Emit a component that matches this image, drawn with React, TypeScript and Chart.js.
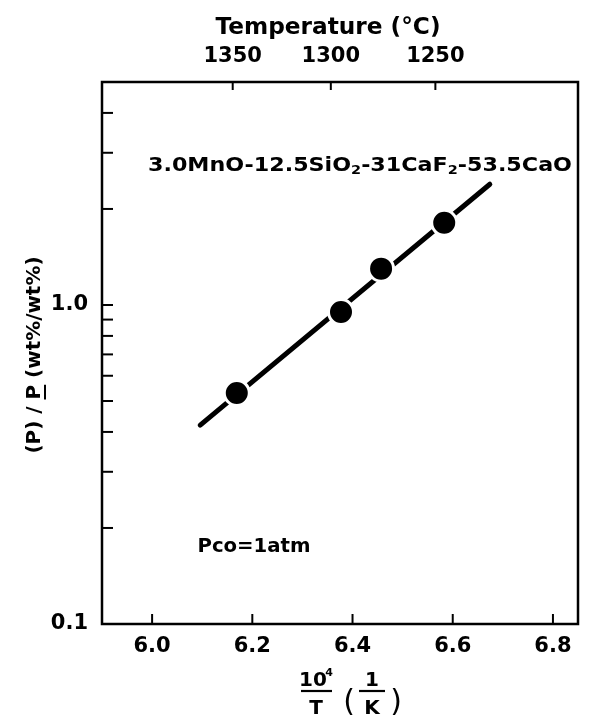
import React, { useEffect, useRef } from "react";
import { Chart, registerables } from "chart.js";

Chart.register(...registerables);

// ---- data ----
const invT = [6.169, 6.377, 6.457, 6.583]; // 10^4/T (1/K)
const ratioP = [0.53, 0.95, 1.3, 1.81]; // (P)/P (wt%/wt%)
const fitInvT = [6.096, 6.674];
const fitRatio = [0.42, 2.39];
const xTickValues = [6.0, 6.2, 6.4, 6.6, 6.8];
const tempTicksC = [1350, 1300, 1250];
const yTickValues = [0.1, 0.2, 0.3, 0.4, 0.5, 0.6, 0.7, 0.8, 0.9, 1, 2, 3, 4, 5];
const yLabeledTicks = [0.1, 1.0];
const compositionParts: [string, boolean][] = [
  ["3.0MnO-12.5SiO", false],
  ["2", true],
  ["-31CaF", false],
  ["2", true],
  ["-53.5CaO", false],
];
const pressureLabel = "Pco=1atm";
const topTitle = "Temperature (°C)";
const yTitlePre = "(P) / ";
const yTitleUnder = "P";
const yTitlePost = " (wt%/wt%)";

const FONT = "'DejaVu Sans', sans-serif";
const toInvT = (tC: number) => 1e4 / (tC + 273.15);

function fittedText(
  ctx: CanvasRenderingContext2D,
  text: string,
  cx: number,
  baseline: number,
  width: number,
  font: string
) {
  ctx.save();
  ctx.font = font;
  const w = ctx.measureText(text).width;
  ctx.translate(cx, baseline);
  ctx.scale(width / w, 1);
  ctx.textAlign = "center";
  ctx.fillText(text, 0, 0);
  ctx.restore();
}

const overlayPlugin = {
  id: "overlay",
  afterDraw(chart: any) {
    const ctx = chart.ctx as CanvasRenderingContext2D;
    const a = chart.chartArea;
    const xs = chart.scales.x;
    const ys = chart.scales.y;
    ctx.save();
    ctx.strokeStyle = "#000";
    ctx.fillStyle = "#000";
    ctx.textBaseline = "alphabetic";
    // frame
    ctx.lineWidth = 2.5;
    ctx.strokeRect(a.left, a.top, a.right - a.left, a.bottom - a.top);
    // bottom ticks (inward)
    ctx.lineWidth = 2;
    for (const v of xTickValues) {
      const px = xs.getPixelForValue(v);
      ctx.beginPath();
      ctx.moveTo(px, a.bottom);
      ctx.lineTo(px, a.bottom - 10);
      ctx.stroke();
    }
    // top ticks (temperature)
    for (const t of tempTicksC) {
      const px = xs.getPixelForValue(toInvT(t));
      ctx.beginPath();
      ctx.moveTo(px, a.top);
      ctx.lineTo(px, a.top + 8);
      ctx.stroke();
    }
    // left ticks
    for (const v of yTickValues) {
      const py = ys.getPixelForValue(v);
      ctx.beginPath();
      ctx.moveTo(a.left, py);
      ctx.lineTo(a.left + 11, py);
      ctx.stroke();
    }

    // top title
    fittedText(ctx, topTitle, 328, 34, 225, `bold 23px ${FONT}`);

    // composition label
    {
      const big = `bold 20px ${FONT}`;
      const small = `bold 13px ${FONT}`;
      let w = 0;
      for (const [t, sub] of compositionParts) {
        ctx.font = sub ? small : big;
        w += ctx.measureText(t).width;
      }
      const sx = 424 / w;
      ctx.save();
      ctx.translate(148, 171);
      ctx.scale(sx, 1);
      ctx.textAlign = "left";
      let x = 0;
      for (const [t, sub] of compositionParts) {
        ctx.font = sub ? small : big;
        ctx.fillText(t, x, sub ? 3 : 0);
        x += ctx.measureText(t).width;
      }
      ctx.restore();
    }

    // pressure label
    fittedText(ctx, pressureLabel, 254, 552, 113, `bold 20px ${FONT}`);

    // y title (rotated), second P underlined
    {
      ctx.save();
      ctx.translate(40, 355);
      ctx.rotate(-Math.PI / 2);
      ctx.font = `bold 20px ${FONT}`;
      const w1 = ctx.measureText(yTitlePre).width;
      const w2 = ctx.measureText(yTitleUnder).width;
      const w3 = ctx.measureText(yTitlePost).width;
      const total = w1 + w2 + w3;
      const sx = 197 / total;
      ctx.scale(sx, 1);
      let x = -total / 2;
      ctx.textAlign = "left";
      ctx.fillText(yTitlePre, x, 0);
      x += w1;
      ctx.fillText(yTitleUnder, x, 0);
      ctx.lineWidth = 2;
      ctx.beginPath();
      ctx.moveTo(x, 5);
      ctx.lineTo(x + w2, 5);
      ctx.stroke();
      x += w2;
      ctx.fillText(yTitlePost, x, 0);
      ctx.restore();
    }

    // x title: 10^4/T (1/K)
    {
      ctx.textAlign = "center";
      const dy = -4;
      ctx.font = `bold 20px ${FONT}`;
      const cx1 = 316;
      ctx.fillText("10", cx1 - 3, 690 + dy);
      ctx.font = `bold 11px ${FONT}`;
      ctx.fillText("4", cx1 + 13, 680 + dy);
      ctx.lineWidth = 2.2;
      ctx.beginPath();
      ctx.moveTo(cx1 - 15, 695 + dy);
      ctx.lineTo(cx1 + 16, 695 + dy);
      ctx.stroke();
      ctx.font = `bold 20px ${FONT}`;
      ctx.fillText("T", cx1, 718 + dy);
      ctx.font = `30px ${FONT}`;
      ctx.fillText("(", 349, 715 + dy);
      ctx.fillText(")", 396, 715 + dy);
      ctx.font = `bold 20px ${FONT}`;
      const cx2 = 372;
      ctx.fillText("1", cx2, 690 + dy);
      ctx.beginPath();
      ctx.moveTo(cx2 - 13, 695 + dy);
      ctx.lineTo(cx2 + 13, 695 + dy);
      ctx.stroke();
      ctx.fillText("K", cx2, 718 + dy);
    }
    ctx.restore();
  },
};

export default function App() {
  const ref = useRef<HTMLCanvasElement | null>(null);
  useEffect(() => {
    const canvas = ref.current;
    if (!canvas) return;
    const tickFont = { family: FONT, size: 21, weight: "bold" };
    const chart = new Chart(canvas, {
      type: "scatter",
      data: {
        datasets: [
          {
            label: "measured",
            data: invT.map((x, i) => ({ x, y: ratioP[i] })),
            showLine: false,
            pointRadius: 12.5,
            pointBackgroundColor: "#000",
            pointBorderColor: "#fff",
            pointBorderWidth: 3,
            order: 0,
          },
          {
            label: "fit",
            data: fitInvT.map((x, i) => ({ x, y: fitRatio[i] })),
            showLine: true,
            pointRadius: 0,
            borderColor: "#000",
            borderWidth: 5,
            borderCapStyle: "round",
            order: 1,
          },
        ],
      },
      options: {
        responsive: false,
        animation: false,
        devicePixelRatio: 1,
        layout: { padding: { left: 0, top: 0, right: 23, bottom: 0 } },
        plugins: { legend: { display: false }, tooltip: { enabled: false } },
        scales: {
          x: {
            type: "linear",
            position: "bottom",
            min: 5.9,
            max: 6.85,
            grid: { display: false },
            border: { display: false },
            afterBuildTicks: (s: any) => {
              s.ticks = xTickValues.map((v) => ({ value: v }));
            },
            ticks: {
              callback: (v: any) => Number(v).toFixed(1),
              font: tickFont,
              color: "#000",
              padding: 2,
              maxRotation: 0,
              autoSkip: false,
            },
            afterFit: (s: any) => {
              s.height = 103;
            },
          },
          x2: {
            type: "linear",
            position: "top",
            min: 5.9,
            max: 6.85,
            grid: { display: false },
            border: { display: false },
            afterBuildTicks: (s: any) => {
              s.ticks = tempTicksC.map((t) => ({ value: toInvT(t) }));
            },
            ticks: {
              callback: (v: any) => String(Math.round(1e4 / Number(v) - 273.15)),
              font: tickFont,
              color: "#000",
              padding: 5,
              maxRotation: 0,
              autoSkip: false,
            },
            afterFit: (s: any) => {
              s.height = 82;
            },
          },
          y: {
            type: "logarithmic",
            min: 0.1,
            max: 5,
            grid: { display: false },
            border: { display: false },
            afterBuildTicks: (s: any) => {
              s.ticks = yTickValues.map((v) => ({ value: v }));
            },
            ticks: {
              callback: (v: any) =>
                yLabeledTicks.some((t) => Math.abs(t - Number(v)) < 1e-9) ? Number(v).toFixed(1) : "",
              font: tickFont,
              color: "#000",
              padding: 6,
              autoSkip: false,
            },
            afterFit: (s: any) => {
              s.width = 102;
            },
          },
        },
      },
      plugins: [overlayPlugin],
    } as any);
    return () => chart.destroy();
  }, []);
  return (
    <div style={{ position: "absolute", left: 0, top: 0, width: 601, height: 727, background: "#fff" }}>
      <canvas ref={ref} width={601} height={727} style={{ width: 601, height: 727, display: "block" }} />
    </div>
  );
}
